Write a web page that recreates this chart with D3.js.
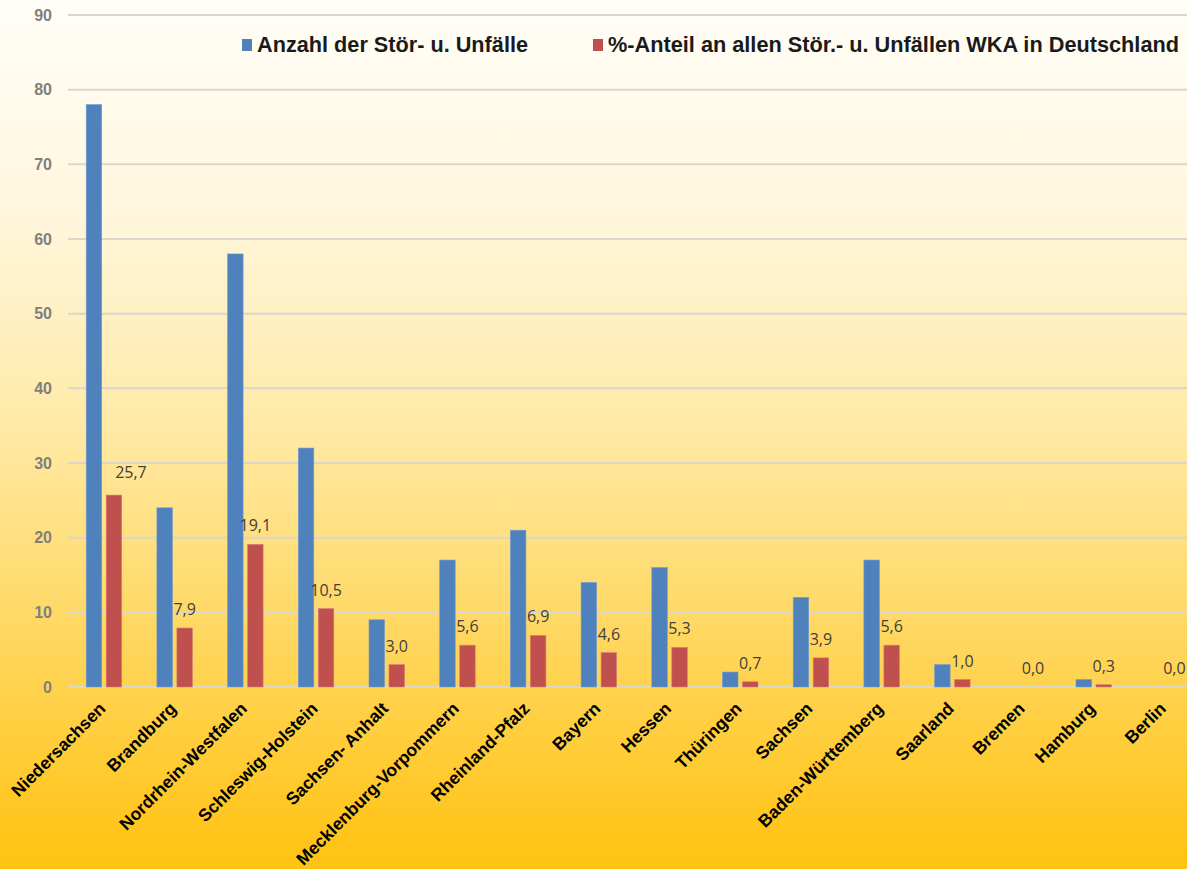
<!DOCTYPE html>
<html><head><meta charset="utf-8">
<script src="https://cdn.jsdelivr.net/npm/d3@7"></script>
<style>html,body{margin:0;padding:0;overflow:hidden;}svg{display:block;}</style>
</head><body>
<svg id="c" width="1187" height="869"></svg>
<script>
const categories = ["Niedersachsen","Brandburg","Nordrhein-Westfalen","Schleswig-Holstein","Sachsen- Anhalt","Mecklenburg-Vorpommern","Rheinland-Pfalz","Bayern","Hessen","Thüringen","Sachsen","Baden-Württemberg","Saarland","Bremen","Hamburg","Berlin"];
const anzahl = [78,24,58,32,9,17,21,14,16,2,12,17,3,0,1,0];
const anteil = [25.7,7.9,19.1,10.5,3.0,5.6,6.9,4.6,5.3,0.7,3.9,5.6,1.0,0.0,0.3,0.0];
const yTicks = [0,10,20,30,40,50,60,70,80,90];
const seriesNames = ["Anzahl der Stör- u. Unfälle","%-Anteil an allen Stör.- u. Unfällen WKA in Deutschland"];

const W = 1187, H = 869;
const svg = d3.select("#c");
const defs = svg.append("defs");
const g = defs.append("linearGradient").attr("id","bg").attr("x1",0).attr("y1",0).attr("x2",0).attr("y2",1);
[[0,"#fffef8"],[0.25,"#fff6dc"],[0.48,"#ffeaa8"],[0.71,"#ffd966"],[0.97,"#ffc418"],[1,"#ffc313"]].forEach(s=>g.append("stop").attr("offset",s[0]).attr("stop-color",s[1]));
svg.append("rect").attr("width",W).attr("height",H).attr("fill","url(#bg)");

const x0 = 68.6, step = 70.7;
const x = d3.scaleBand().domain(categories).range([x0, x0 + step*categories.length]).paddingInner(0.49).paddingOuter(0.245);
const y = d3.scaleLinear().domain([0,90]).range([687,15]);
const bw = 15.5, gap = 4.5;

// grid
svg.append("g").selectAll("line").data(yTicks).join("line")
  .attr("x1",68).attr("x2",W).attr("y1",d=>y(d)).attr("y2",d=>y(d))
  .attr("stroke","#d9d6cc").attr("stroke-width",2);
svg.append("g").selectAll("text").data(yTicks).join("text")
  .attr("x",52).attr("y",d=>y(d)).attr("dy","0.36em").attr("text-anchor","end")
  .attr("font-family","Liberation Sans, Arial, sans-serif").attr("font-weight","bold").attr("font-size",16)
  .attr("fill","#7f7f7f").text(d=>d);

const cx = c => x(c) + x.bandwidth()/2;
// blue bars
svg.append("g").selectAll("rect").data(categories).join("rect")
  .attr("x",(c)=>cx(c)-gap/2-bw).attr("width",bw)
  .attr("y",(c,i)=>y(anzahl[i])).attr("height",(c,i)=>y(0)-y(anzahl[i]))
  .attr("fill","#4f81bd").attr("stroke","#6f9bd0").attr("stroke-width",0.6);
// red bars
svg.append("g").selectAll("rect").data(categories).join("rect")
  .attr("x",(c)=>cx(c)+gap/2).attr("width",bw)
  .attr("y",(c,i)=>y(anteil[i])).attr("height",(c,i)=>y(0)-y(anteil[i]))
  .attr("fill","#c0504d").attr("stroke","#d47b78").attr("stroke-width",0.6);
// data labels (first label was moved in the original)
const labelMove = {"Niedersachsen":[17,-4]};
svg.append("g").selectAll("text").data(categories).join("text")
  .attr("x",(c)=>cx(c)+gap/2+bw/2+(labelMove[c]?labelMove[c][0]:0))
  .attr("y",(c,i)=>y(anteil[i])-13+(labelMove[c]?labelMove[c][1]:0))
  .attr("text-anchor","middle")
  .attr("font-family","Open Sans, sans-serif").attr("font-size",16).attr("fill","#404040")
  .text((c,i)=>d3.format(".1f")(anteil[i]).replace(".",","));

// x labels
svg.append("g").selectAll("text").data(categories).join("text")
  .attr("transform",c=>`translate(${cx(c)-6},${701}) rotate(-45)`)
  .attr("text-anchor","end").attr("dy","0.7em")
  .attr("font-family","Liberation Sans, Arial, sans-serif").attr("font-weight","bold").attr("font-size",17.5)
  .attr("fill","#000").text(c=>c);

// legend
const leg = [{x:242,c:"#4f81bd",t:seriesNames[0],tl:271},{x:593,c:"#c0504d",t:seriesNames[1],tl:571}];
leg.forEach(l=>{
  svg.append("rect").attr("x",l.x).attr("y",39).attr("width",10).attr("height",12).attr("fill",l.c);
  svg.append("text").attr("x",l.x+15).attr("y",52)
    .attr("font-family","Liberation Sans, Arial, sans-serif").attr("font-weight","bold").attr("font-size",21.5)
    .attr("textLength",l.tl).attr("lengthAdjust","spacingAndGlyphs")
    .attr("fill","#1a1a1a").text(l.t);
});
</script>
</body></html>
